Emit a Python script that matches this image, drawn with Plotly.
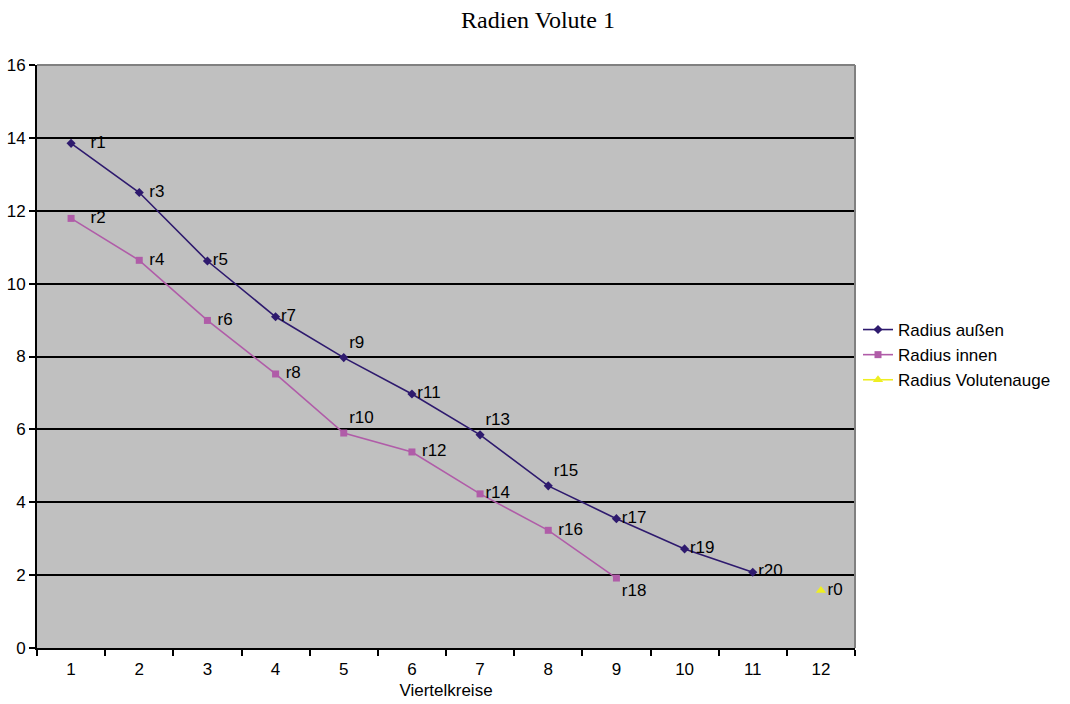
import plotly.graph_objects as go

categories = [str(i) for i in range(1, 13)]

outer_x = ["1", "2", "3", "4", "5", "6", "7", "8", "9", "10", "11"]
outer_y = [13.85, 12.50, 10.62, 9.09, 7.97, 6.97, 5.85, 4.45, 3.55, 2.72, 2.08]
outer_labels = ["r1", "r3", "r5", "r7", "r9", "r11", "r13", "r15", "r17", "r19", "r20"]
outer_pos = ["middle right", "middle right", "middle right", "middle right", "top right",
             "middle right", "top right", "top right", "middle right", "middle right", "middle right"]
outer_pad = [3, 1, 0, 0, 0, 0, 0, 0, 0, 0, 0]

inner_x = ["1", "2", "3", "4", "5", "6", "7", "8", "9"]
inner_y = [11.79, 10.64, 8.99, 7.52, 5.90, 5.38, 4.23, 3.23, 1.92]
inner_labels = ["r2", "r4", "r6", "r8", "r10", "r12", "r14", "r16", "r18"]
inner_pos = ["middle right", "middle right", "middle right", "middle right", "top right",
             "middle right", "middle right", "middle right", "bottom right"]
inner_pad = [3, 1, 1, 1, 0, 1, 0, 1, 0]

eye_x = ["12"]
eye_y = [1.58]
eye_labels = ["r0"]
eye_pad = [0]

font_family = "Liberation Sans, Arial, sans-serif"
NB = "\u00a0"


def padded(labels, pads):
    return [NB * p + s for s, p in zip(labels, pads)]


fig = go.Figure()
fig.add_trace(go.Scatter(
    x=outer_x, y=outer_y, mode="lines+markers+text", name="Radius außen",
    text=padded(outer_labels, outer_pad), textposition=outer_pos,
    textfont=dict(size=17, color="#000000", family=font_family),
    line=dict(color="#2E1A6E", width=1.6),
    marker=dict(symbol="diamond", size=7, color="#2E1A6E"),
    cliponaxis=False,
))
fig.add_trace(go.Scatter(
    x=inner_x, y=inner_y, mode="lines+markers+text", name="Radius innen",
    text=padded(inner_labels, inner_pad), textposition=inner_pos,
    textfont=dict(size=17, color="#000000", family=font_family),
    line=dict(color="#B05CA8", width=1.6),
    marker=dict(symbol="square", size=7, color="#B05CA8"),
    cliponaxis=False,
))
fig.add_trace(go.Scatter(
    x=eye_x, y=eye_y, mode="lines+markers+text", name="Radius Volutenauge",
    text=padded(eye_labels, eye_pad), textposition="middle right",
    textfont=dict(size=17, color="#000000", family=font_family),
    line=dict(color="#EEEE22", width=1.6),
    marker=dict(symbol="triangle-up", size=9, color="#EEEE22"),
    cliponaxis=False,
))

fig.update_layout(
    width=1070, height=704,
    margin=dict(l=37, r=215, t=65, b=56),
    paper_bgcolor="#FFFFFF",
    plot_bgcolor="#C0C0C0",
    font=dict(family=font_family, size=17, color="#000000"),
    title=dict(text="Radien Volute 1", x=538 / 1070, xanchor="center", y=1 - 20 / 704,
               yanchor="middle", font=dict(family="Liberation Serif, Times New Roman, serif",
                                           size=24, color="#000000")),
    showlegend=True,
    legend=dict(x=(858 - 37) / 818, y=(648 - 312) / 583, xanchor="left", yanchor="top",
                bgcolor="rgba(0,0,0,0)", font=dict(size=17), tracegroupgap=0,
                itemwidth=30),
    xaxis=dict(
        type="category", categoryorder="array", categoryarray=categories,
        tickvals=categories, ticktext=categories,
        tickson="boundaries", ticks="outside", ticklen=6, tickcolor="#000000", tickwidth=2,
        ticklabelstandoff=5,
        showline=True, linecolor="#000000", linewidth=2,
        showgrid=False, zeroline=False,
        range=[-0.5, 11.5],
        title=dict(text="Viertelkreise", standoff=6, font=dict(size=17)),
        tickfont=dict(size=17),
        automargin=False,
    ),
    yaxis=dict(
        range=[0, 16], dtick=2, tick0=0,
        ticks="outside", ticklen=6, tickcolor="#000000", tickwidth=2,
        showline=True, linecolor="#000000", linewidth=2,
        showgrid=True, gridcolor="#000000", gridwidth=1.5,
        zeroline=False, tickfont=dict(size=17),
        automargin=False,
    ),
)

fig.add_shape(type="line", xref="paper", yref="paper", x0=0, x1=1, y0=1, y1=1,
              line=dict(color="#808080", width=2))
fig.add_shape(type="line", xref="paper", yref="paper", x0=1, x1=1, y0=0, y1=1,
              line=dict(color="#808080", width=2))

fig.write_html("out.html")
